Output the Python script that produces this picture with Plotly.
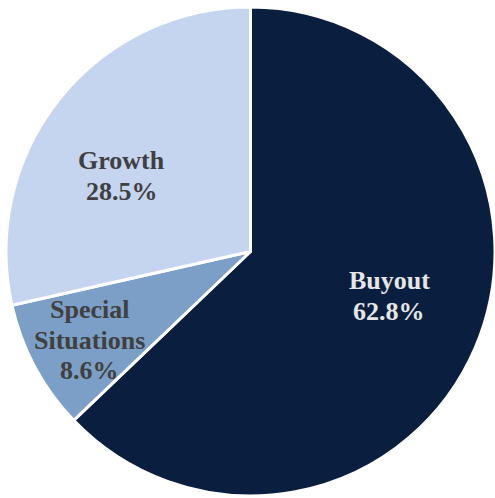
import plotly.graph_objects as go

categories = ["Buyout", "Special Situations", "Growth"]
label_lines = [["Buyout"], ["Special", "Situations"], ["Growth"]]
values = [62.8, 8.6, 28.5]
colors = ["#0a1f3f", "#7b9fc6", "#c5d5f0"]
text_colors = ["#e6e6e6", "#404040", "#404040"]
# label anchor positions (paper coordinates) for each slice's text
label_x = [0.784, 0.171, 0.237]
label_y = [0.410, 0.320, 0.653]
LINE_GAP = 30.5

fig = go.Figure(go.Pie(
    labels=categories,
    values=values,
    textinfo="none",
    sort=False,
    direction="clockwise",
    rotation=0,
    marker=dict(colors=colors, line=dict(color="white", width=3)),
    hoverinfo="label+value",
))

for lines, v, c, x, y in zip(label_lines, values, text_colors, label_x, label_y):
    all_lines = lines + [f"{v:.1f}%"]
    n = len(all_lines)
    for i, line in enumerate(all_lines):
        shift = ((n - 1) / 2 - i) * LINE_GAP
        fig.add_annotation(
            x=x, y=y, xref="paper", yref="paper", yshift=shift,
            text=f"<b>{line}</b>",
            showarrow=False, xanchor="center", yanchor="middle", align="center",
            font=dict(family="Liberation Serif, Times New Roman, serif", size=26, color=c),
        )

fig.update_layout(
    width=495, height=498,
    margin=dict(l=6, r=0, t=5, b=0),
    showlegend=False,
    paper_bgcolor="white",
)
fig.write_html("out.html", config={"displayModeBar": False},
               post_script="document.body.style.margin='0';")
